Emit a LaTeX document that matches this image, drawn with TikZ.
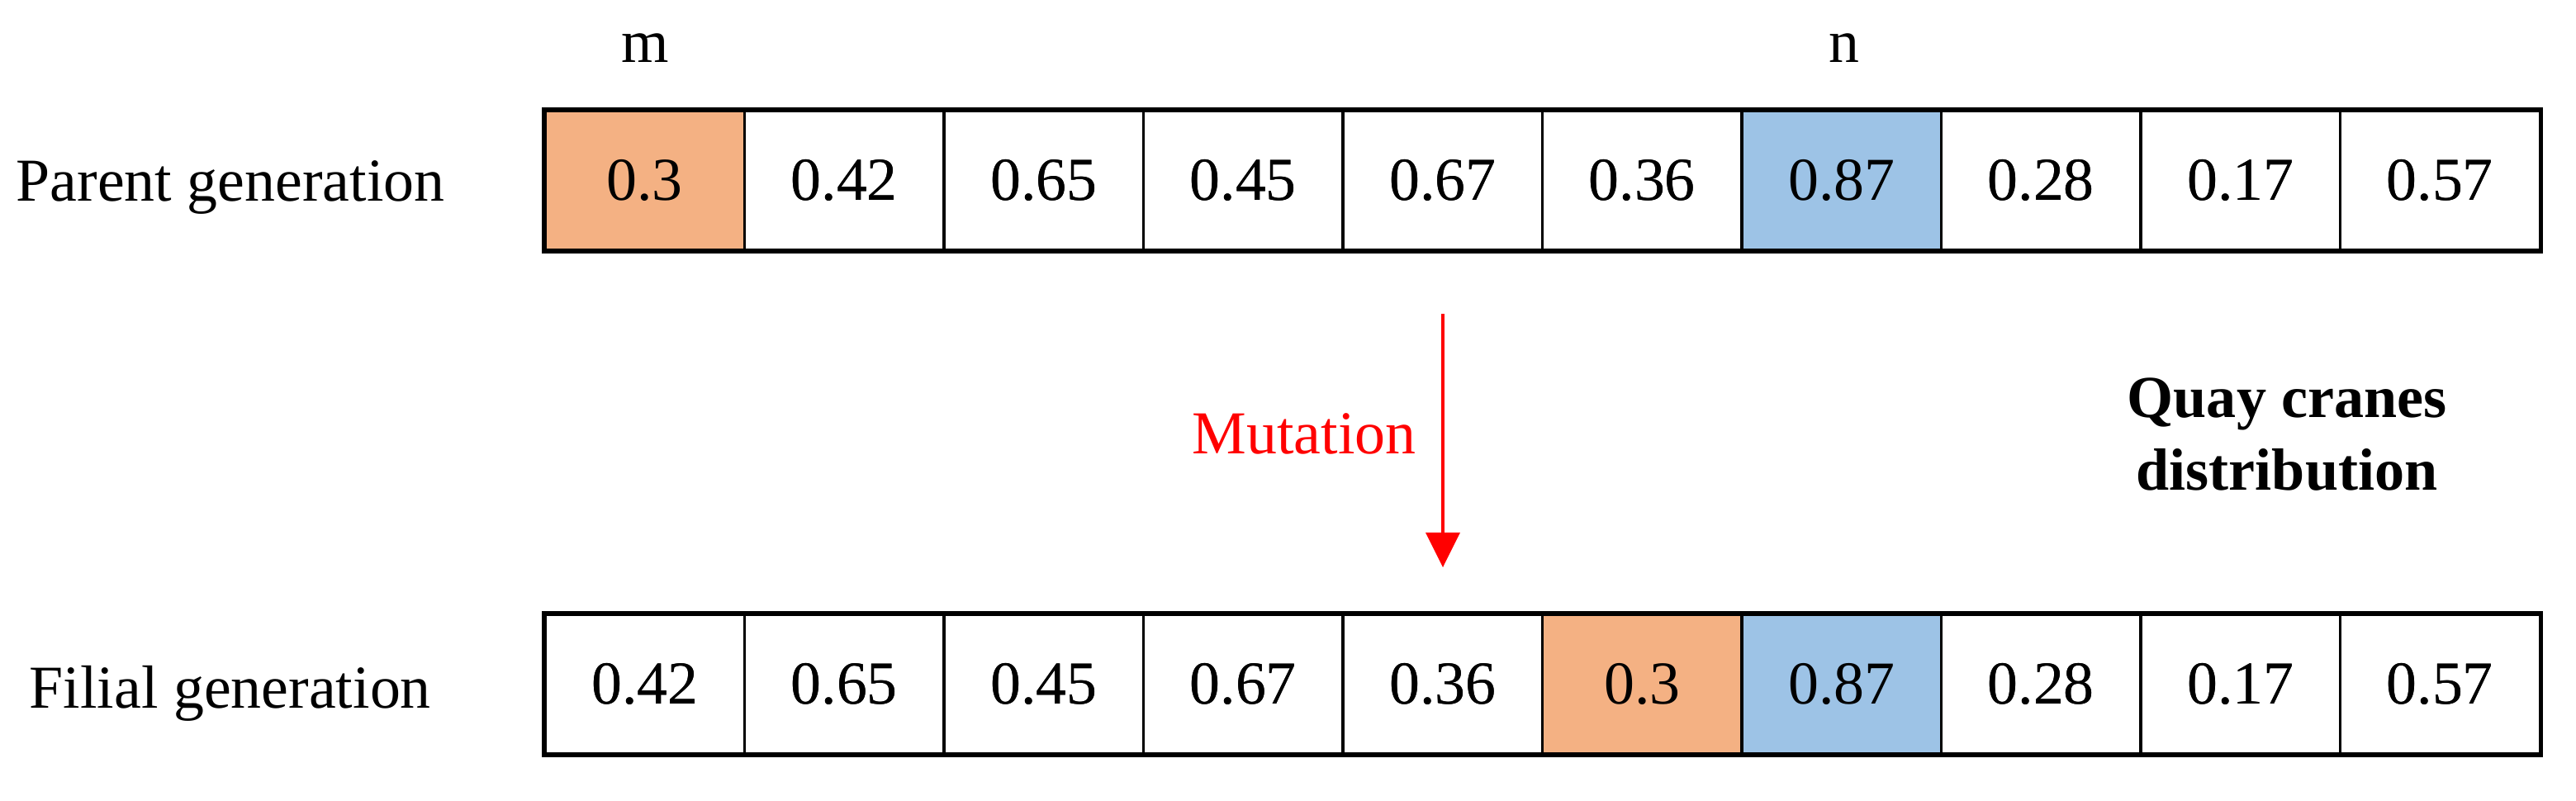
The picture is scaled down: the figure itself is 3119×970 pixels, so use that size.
\documentclass[tikz,border=0pt]{standalone}
\usepackage{fontspec}
\setmainfont{Liberation Serif}
\usetikzlibrary{arrows.meta}
\definecolor{cellorange}{HTML}{F4B183}
\definecolor{cellblue}{HTML}{9DC3E6}
\definecolor{mutred}{HTML}{FF0000}
\begin{document}
\begin{tikzpicture}[x=0.01cm,y=-0.01cm,
  cell/.style={draw=black, line width=0.9pt, minimum width=2.415cm, minimum height=1.69cm,
    inner sep=0pt, font=\fontsize{21}{25}\selectfont},
  frame/.style={draw=black, line width=1.5pt},
  lbl/.style={inner sep=0pt, font=\fontsize{21}{25}\selectfont},
  mutarrow/.style={draw=mutred, line width=0.9pt, -{Triangle[length=0.42cm,width=0.41cm]}}]
\useasboundingbox (0,0) rectangle (3119,970);
% parent row
\foreach \v [count=\i from 0] in {0.3,0.42,0.65,0.45,0.67,0.36,0.87,0.28,0.17,0.57}{
  \node[cell] (p\i) at (780.75+241.5*\i,218.5) {\v};
}
\fill[cellorange] (p0.north west) rectangle (p0.south east);
\fill[cellblue] (p6.north west) rectangle (p6.south east);
\foreach \v [count=\i from 0] in {0.3,0.42,0.65,0.45,0.67,0.36,0.87,0.28,0.17,0.57}{
  \node[cell] at (p\i) {\v};
}
% filial row
\foreach \v [count=\i from 0] in {0.42,0.65,0.45,0.67,0.36,0.3,0.87,0.28,0.17,0.57}{
  \node[cell] (f\i) at (780.75+241.5*\i,828.5) {\v};
}
\fill[cellorange] (f5.north west) rectangle (f5.south east);
\fill[cellblue] (f6.north west) rectangle (f6.south east);
\foreach \v [count=\i from 0] in {0.42,0.65,0.45,0.67,0.36,0.3,0.87,0.28,0.17,0.57}{
  \node[cell] at (f\i) {\v};
}
\draw[frame] (p0.north west) rectangle (p9.south east);
\draw[frame] (f0.north west) rectangle (f9.south east);
% labels
\node[lbl, anchor=base west] (parent) at (19,243) {Parent generation};
\node[lbl, anchor=base west] (filial) at (35,857) {Filial generation};
\node[lbl, anchor=base] (m) at (781,76) {m};
\node[lbl, anchor=base] (n) at (2233,76) {n};
\node[lbl, anchor=base west, text=mutred] (mut) at (1443,549) {Mutation};
\node[lbl, anchor=base, align=center, font=\fontsize{20.5}{25}\selectfont\bfseries] (quay) at (2769,593) {Quay cranes\\distribution};
% arrow
\coordinate (a1) at (1747,380);
\coordinate (a2) at (1747,687);
\draw[mutarrow] (a1) -- (a2);
\end{tikzpicture}
\end{document}
